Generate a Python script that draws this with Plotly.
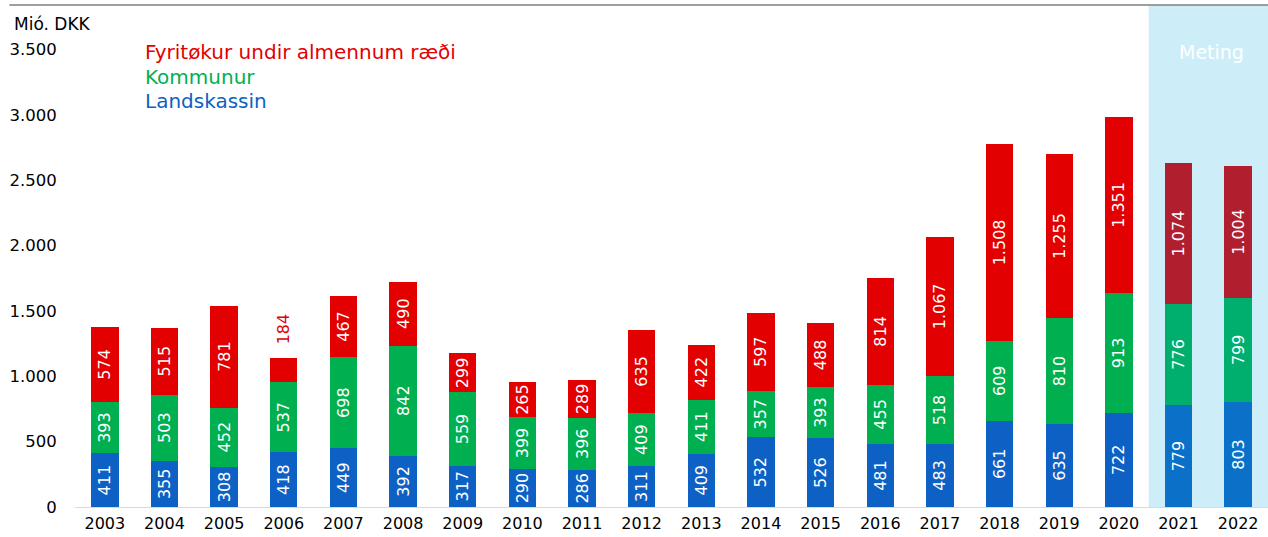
import plotly.graph_objects as go

# ==========================================================
# Stacked bars: Landskassin / Kommunur / Fyritøkur (Mió. DKK)
# ==========================================================

years = [str(y) for y in range(2003, 2023)]

landskassin = [411, 355, 308, 418, 449, 392, 317, 290, 286, 311,
               409, 532, 526, 481, 483, 661, 635, 722, 779, 803]
kommunur = [393, 503, 452, 537, 698, 842, 559, 399, 396, 409,
            411, 357, 393, 455, 518, 609, 810, 913, 776, 799]
fyritokur = [574, 515, 781, 184, 467, 490, 299, 265, 289, 635,
             422, 597, 488, 814, 1067, 1508, 1255, 1351, 1074, 1004]

n_forecast = 2  # 2021-2022 are "Meting"
small_year = "2006"  # red label drawn above the bar

FONT = "DejaVu Sans"


def colours(normal, forecast):
    return [normal] * (len(years) - n_forecast) + [forecast] * n_forecast


series = [
    ("Landskassin", landskassin, colours("#0E61C4", "#0A70C8")),
    ("Kommunur", kommunur, colours("#00B050", "#00AF6E")),
    ("Fyritøkur undir almennum ræði", fyritokur, colours("#E20000", "#B11F2E")),
]

fig = go.Figure()

small_idx = years.index(small_year)

for name, values, cols in series:
    positions = ["inside"] * len(values)
    if name.startswith("Fyrit"):
        positions[small_idx] = "none"
    fig.add_trace(
        go.Bar(
            x=years,
            y=values,
            name=name,
            marker=dict(color=cols, line=dict(width=0)),
            width=0.46,
            texttemplate="%{y:,}",
            textposition=positions,
            textangle=-90,
            insidetextanchor="middle",
            insidetextfont=dict(color="white", size=16, family=FONT),
            cliponaxis=False,
            showlegend=False,
        )
    )

# label for the small red segment, above the stack
# (category index, since numeric-looking strings are read as indices)
total_small = landskassin[small_idx] + kommunur[small_idx] + fyritokur[small_idx]
fig.add_annotation(
    text=str(fyritokur[small_idx]), xref="x", yref="y",
    x=small_idx, y=total_small, yanchor="bottom", yshift=12,
    textangle=-90, showarrow=False,
    font=dict(color="#E20000", size=16, family=FONT),
)

# forecast shading
fig.add_shape(
    type="rect", xref="x", yref="paper",
    x0=17.5, x1=19.5, y0=0, y1=1,
    fillcolor="#CDEEF9", line=dict(width=0), layer="below",
)

# top rule
fig.add_shape(
    type="line", xref="paper", yref="paper",
    x0=-0.055, x1=1, y0=1, y1=1,
    line=dict(color="#7F7F7F", width=1.5),
)

# legend texts
legend_items = [
    ("Fyritøkur undir almennum ræði", "#E20000", 3481),
    ("Kommunur", "#00B050", 3292),
    ("Landskassin", "#0E61C4", 3106),
]
for text, col, yv in legend_items:
    fig.add_annotation(
        text=text, xref="paper", yref="y", x=0.057, y=yv,
        xanchor="left", yanchor="middle", showarrow=False,
        font=dict(color=col, size=20, family=FONT),
    )

fig.add_annotation(
    text="Mió. DKK", xref="paper", yref="y", x=-0.053, y=3695,
    xanchor="left", yanchor="middle", showarrow=False,
    font=dict(color="black", size=17, family=FONT),
)

fig.add_annotation(
    text="Meting", xref="x", yref="y", x=18.56, y=3481,
    xanchor="center", yanchor="middle", showarrow=False,
    font=dict(color="white", size=19, family=FONT),
)

fig.update_layout(
    width=1268,
    height=537,
    barmode="stack",
    separators=",.",
    plot_bgcolor="white",
    paper_bgcolor="white",
    margin=dict(l=75, r=0, t=5, b=30),
    font=dict(family=FONT, size=16, color="black"),
    uniformtext=dict(minsize=16, mode="show"),
    xaxis=dict(
        type="category",
        range=[-0.5, len(years) - 0.5],
        showgrid=False,
        showline=True,
        linecolor="#D9D9D9",
        linewidth=1,
        ticks="outside",
        ticklen=2,
        tickcolor="rgba(0,0,0,0)",
        tickfont=dict(size=16),
    ),
    yaxis=dict(
        range=[0, 3840],
        tickvals=[0, 500, 1000, 1500, 2000, 2500, 3000, 3500],
        tickformat=",",
        showgrid=False,
        zeroline=False,
        showline=False,
        ticks="outside",
        ticklen=14,
        tickcolor="rgba(0,0,0,0)",
        tickfont=dict(size=16.5),
    ),
)

fig.write_html(
    "out.html",
    config={"displayModeBar": False},
    post_script="document.body.style.margin='0';document.body.style.overflow='hidden';",
)
